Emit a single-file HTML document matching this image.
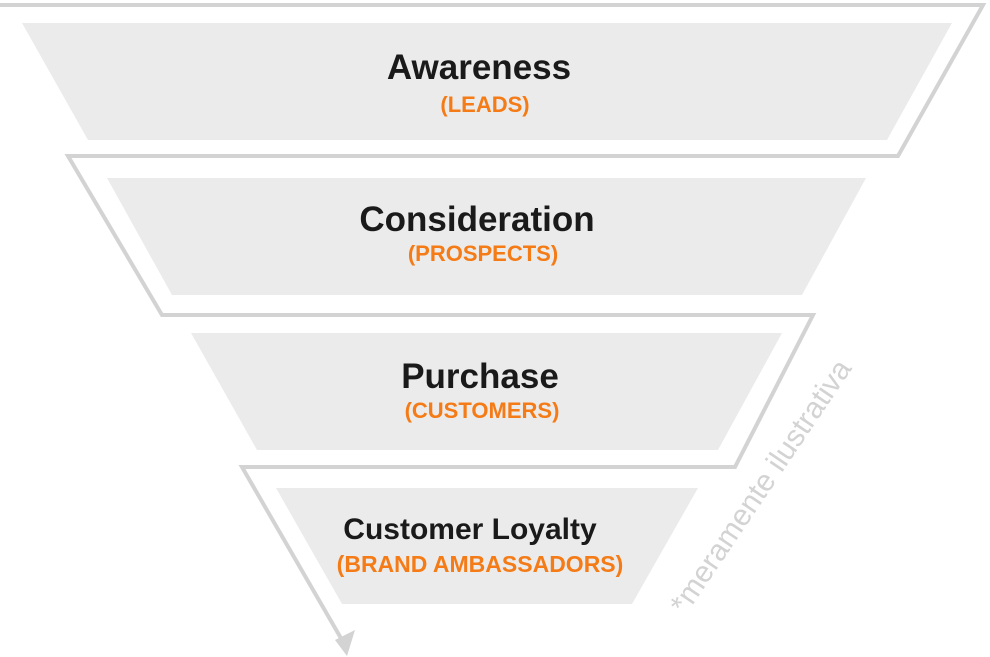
<!DOCTYPE html>
<html><head><meta charset="utf-8"><style>
html,body{margin:0;padding:0;background:#fff;}
svg{display:block;}
.t{font-family:"Liberation Sans",sans-serif;font-weight:bold;fill:#1a1a1a;text-anchor:middle;}
.o{font-family:"Liberation Sans",sans-serif;font-weight:bold;fill:#f47b16;text-anchor:middle;}
</style></head><body>
<svg width="990" height="657" viewBox="0 0 990 657">
<g fill="#ebebeb">
<polygon points="22,23 952,23 887,140 88,140"/>
<polygon points="107,178 866,178 802,295 172,295"/>
<polygon points="191,333 782,333 718,450 257,450"/>
<polygon points="276,488 698,488 632,604 342,604"/>
</g>
<polyline points="0,5 983,5 898,156 68,156 162,315 813,315 735,467 242,467 342,640" fill="none" stroke="#d3d3d3" stroke-width="4" stroke-linejoin="miter"/>
<polygon points="335,640 355,630 347,656" fill="#d3d3d3"/>
<text class="t" x="479" y="79" font-size="35">Awareness</text>
<text class="o" x="485" y="112" font-size="22">(LEADS)</text>
<text class="t" x="477" y="231" font-size="35">Consideration</text>
<text class="o" x="483" y="261" font-size="22">(PROSPECTS)</text>
<text class="t" x="480" y="388" font-size="35">Purchase</text>
<text class="o" x="482" y="418" font-size="22">(CUSTOMERS)</text>
<text class="t" x="470" y="539" font-size="30">Customer Loyalty</text>
<text class="o" x="480" y="572" font-size="23">(BRAND AMBASSADORS)</text>
<text x="0" y="0" font-family="Liberation Sans,sans-serif" font-size="30" fill="#d3d3d3" text-anchor="middle" transform="translate(769,492) rotate(-56)">*meramente ilustrativa</text>
</svg>
</body></html>
